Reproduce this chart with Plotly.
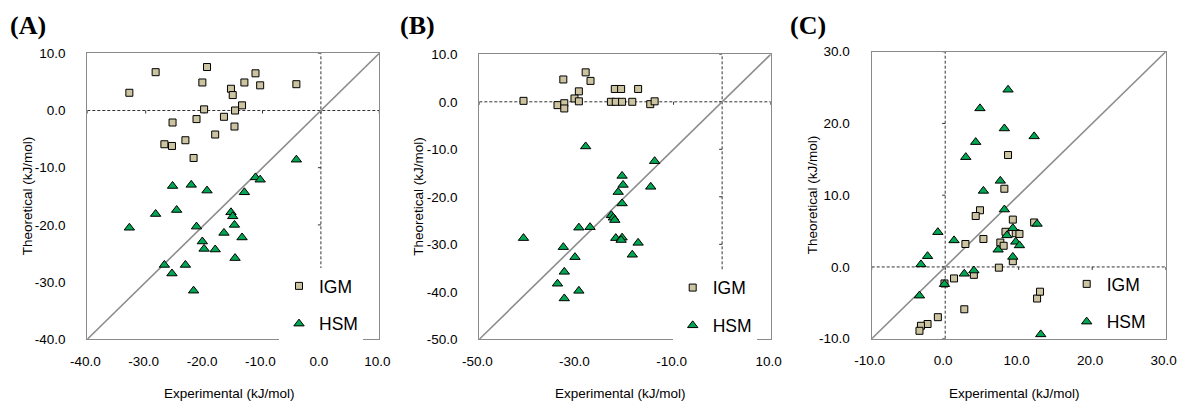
import plotly.graph_objects as go

# ---------------- data ----------------
A_IGM_x = [-32.8, -28.3, -19.5, -20.3, -15.4, -15.1, -13.1, -11.2, -10.4, -4.2, -20.0,
           -13.5, -14.7, -16.6, -21.3, -25.4, -14.8, -18.1, -23.2, -26.8, -25.5, -21.8]
A_IGM_y = [3.1, 6.7, 7.6, 4.9, 3.8, 2.7, 4.9, 6.5, 4.4, 4.6, 0.2,
           0.9, 0.0, -1.1, -1.5, -2.1, -2.8, -4.2, -5.2, -5.9, -6.2, -8.3]
A_HSM_x = [-4.2, -11.2, -10.4, -25.4, -22.2, -19.5, -13.1, -28.3, -24.7, -32.8, -21.3, -15.4,
           -15.1, -14.8, -16.6, -13.5, -20.3, -20.0, -18.1, -14.7, -26.8, -23.2, -25.5, -21.8]
A_HSM_y = [-8.6, -11.7, -12.1, -13.2, -13.0, -14.0, -14.3, -18.1, -17.4, -20.5, -20.3, -17.8,
           -18.5, -20.0, -21.4, -22.2, -22.9, -24.2, -24.3, -25.8, -27.0, -27.0, -28.5, -31.5]

B_IGM_x = [-40.9, -32.7, -28.1, -27.1, -29.5, -30.4, -29.5, -33.9, -32.5, -32.5,
           -22.1, -20.8, -17.3, -22.9, -21.9, -20.6, -18.5, -14.8, -13.9]
B_IGM_y = [0.2, 4.7, 6.2, 4.4, 2.2, 0.7, 0.1, -0.7, -0.3, -1.4,
           2.7, 2.7, 2.7, 0.0, 0.0, 0.0, 0.0, -0.5, 0.1]
B_HSM_x = [-28.1, -13.9, -20.6, -20.4, -14.7, -21.4, -20.6, -22.8, -22.4, -22.1, -29.5, -27.2,
           -40.9, -21.9, -20.6, -20.8, -17.3, -32.7, -18.5, -30.3, -32.5, -33.9, -29.5, -32.5]
B_HSM_y = [-9.4, -12.5, -15.6, -17.5, -17.9, -19.0, -21.4, -23.9, -24.4, -24.9, -26.5, -26.4,
           -28.7, -28.7, -28.6, -29.1, -29.7, -30.6, -32.2, -32.7, -35.8, -38.3, -39.8, -41.4]

C_IGM_x = [8.55, 8.05, 4.73, 4.15, 9.2, 12.1, 5.2, 2.75, 8.2, 9.6, 10.1, 7.5, 7.95,
           9.2, 7.3, 3.9, 1.2, -0.1, 2.6, -1.0, -2.4, -3.3, -3.5, 12.5, 12.9]
C_IGM_y = [15.6, 10.9, 7.9, 7.1, 6.6, 6.2, 3.9, 3.2, 4.9, 4.7, 4.6, 3.4, 2.95,
           0.8, -0.1, -1.1, -1.6, -2.3, -5.9, -7.0, -7.95, -8.2, -8.9, -4.4, -3.45]
C_HSM_x = [8.55, 4.73, 8.05, 12.1, 4.15, 2.8, 7.5, 5.2, 8.05, 9.2, 8.4, 9.6, 10.1,
           12.5, -1.0, 1.2, -2.4, -3.3, 7.2, 9.2, 2.6, 3.9, -0.1, -3.5, 13.0]
C_HSM_y = [24.7, 22.1, 19.3, 18.2, 17.4, 15.3, 12.0, 10.6, 8.0, 5.4, 4.4, 3.5, 3.0,
           6.0, 4.85, 3.7, 1.5, 0.35, 2.4, 1.4, -0.95, -0.5, -2.4, -4.0, -9.4]

A_range = [-40, 10]
B_range = [-50, 10]
C_range = [-10, 30]
A_xticks = [-40, -30, -20, -10, 0, 10]
A_yticks = [-40, -30, -20, -10, 0, 10]
B_xticks = [-50, -30, -10, 10]
B_yticks = [-50, -40, -30, -20, -10, 0, 10]
C_xticks = [-10, 0, 10, 20, 30]
C_yticks = [-10, 0, 10, 20, 30]

panel_labels = ["(A)", "(B)", "(C)"]
x_title = "Experimental (kJ/mol)"
y_title = "Theoretical (kJ/mol)"
series_names = ["IGM", "HSM"]

# ---------------- styles ----------------
W, H = 1178, 401
FONT = "Liberation Sans, Arial, sans-serif"
SQ_FILL = "#CCC3A0"
TRI_FILL = "#00A651"
BORDER = "#8A8A8A"
DIAG = "#8C8C8C"
ZERO = "#333333"

# pixel boxes of the three plot areas: (left, right, top, bottom)
boxes = [(87.3, 379.3, 53.3, 339.3), (479.3, 770.7, 54.3, 339.3), (871.7, 1165.7, 51.7, 338.7)]

panels = [
    (A_IGM_x, A_IGM_y, A_HSM_x, A_HSM_y, A_range, A_xticks, A_yticks),
    (B_IGM_x, B_IGM_y, B_HSM_x, B_HSM_y, B_range, B_xticks, B_yticks),
    (C_IGM_x, C_IGM_y, C_HSM_x, C_HSM_y, C_range, C_xticks, C_yticks),
]

# legend text positions (px): (text left, first item center y)
legend_pos = [(319, 284), (712.7, 285.7), (1106.7, 282)]
legend_bg = ["white", "white", "rgba(0,0,0,0)"]
xtitle_cx = [229, 620.5, 1014]
ytitle_cx = [27, 419, 812]
label_x = [8, 398, 788]

fig = go.Figure()
layout = dict(width=W, height=H, margin=dict(l=0, r=0, t=0, b=0, autoexpand=False),
              paper_bgcolor="white", plot_bgcolor="white",
              font=dict(family=FONT, size=13.5, color="black"))
shapes = []
annotations = []

for i, (ix, iy, hx, hy, rng, xt, yt) in enumerate(panels):
    n = "" if i == 0 else str(i + 1)
    xa, ya = "x" + n, "y" + n
    lg = "legend" + n
    l, r, t, b = boxes[i]
    layout["xaxis" + n] = dict(
        domain=[l / W, r / W], range=rng, anchor=ya, tickvals=xt, automargin=False,
        ticktext=[f"{v:.1f}" for v in xt], ticks="", showgrid=False, zeroline=False,
        showline=True, mirror=True, linecolor=BORDER, linewidth=1.3,
        ticklabelstandoff=9, ticklabelshift=-2, ticklabeloverflow="allow",
        tickfont=dict(size=13.5))
    layout["yaxis" + n] = dict(
        domain=[(H - b) / H, (H - t) / H], range=rng, anchor=xa, tickvals=yt, automargin=False,
        ticktext=[f"{v:.1f}" for v in yt], ticks="", showgrid=False, zeroline=False,
        showline=True, mirror=True, linecolor=BORDER, linewidth=1.3,
        ticklabelstandoff=18, ticklabeloverflow="allow", tickfont=dict(size=13.5))

    # diagonal y = x
    fig.add_trace(go.Scatter(x=rng, y=rng, mode="lines", xaxis=xa, yaxis=ya,
                             line=dict(color=DIAG, width=1.6), showlegend=False,
                             hoverinfo="skip"))
    fig.add_trace(go.Scatter(x=ix, y=iy, mode="markers", name=series_names[0],
                             xaxis=xa, yaxis=ya, legend=lg, legendgroup="g1" + n,
                             marker=dict(symbol="square", size=7, color=SQ_FILL,
                                         line=dict(color="black", width=1))))
    fig.add_trace(go.Scatter(x=hx, y=hy, mode="markers", name=series_names[1],
                             xaxis=xa, yaxis=ya, legend=lg, legendgroup="g2" + n,
                             marker=dict(symbol="triangle-up", size=9, color=TRI_FILL,
                                         line=dict(color="black", width=1))))

    # dashed zero lines
    shapes.append(dict(type="line", xref=xa, yref=ya, x0=0, x1=0, y0=rng[0], y1=rng[1],
                       layer="below", line=dict(color=ZERO, width=1, dash="3px,2px")))
    shapes.append(dict(type="line", xref=xa, yref=ya, x0=rng[0], x1=rng[1], y0=0, y1=0,
                       layer="below", line=dict(color=ZERO, width=1, dash="3px,2px")))
    # small tick marks on the zero lines
    for v in xt:
        shapes.append(dict(type="line", xref=xa, yref=ya, x0=v, x1=v, ysizemode="pixel",
                           yanchor=0, y0=0, y1=-3, layer="below",
                           line=dict(color=ZERO, width=1)))
    for v in yt:
        shapes.append(dict(type="line", xref=xa, yref=ya, y0=v, y1=v, xsizemode="pixel",
                           xanchor=0, x0=0, x1=-3, layer="below",
                           line=dict(color=ZERO, width=1)))

    # legend
    tx, ty = legend_pos[i]
    layout[lg] = dict(x=(tx - 40) / W, y=(H - (ty - 16)) / H, xanchor="left", yanchor="top",
                      xref="container", yref="container",
                      bgcolor=legend_bg[i], borderwidth=0, font=dict(size=17.5, family=FONT),
                      tracegroupgap=12, traceorder="grouped")

    # axis titles and panel label
    annotations.append(dict(text=x_title, xref="paper", yref="paper", x=xtitle_cx[i] / W,
                            y=(H - 393) / H, xanchor="center", yanchor="middle",
                            showarrow=False, font=dict(size=13.5)))
    annotations.append(dict(text=y_title, xref="paper", yref="paper", x=ytitle_cx[i] / W,
                            y=(H - (t + b) / 2) / H, xanchor="center", yanchor="middle",
                            textangle=-90, showarrow=False, font=dict(size=13.5)))
    annotations.append(dict(text="<b>" + panel_labels[i] + "</b>", xref="paper", yref="paper",
                            x=label_x[i] / W, y=(H - 25) / H, xanchor="left", yanchor="middle",
                            showarrow=False,
                            font=dict(size=26, family="Liberation Serif, Times New Roman, serif")))

layout["shapes"] = shapes
layout["annotations"] = annotations
fig.update_layout(**layout)
fig.write_html(
    "out.html",
    config={"displayModeBar": False},
    post_script="document.body.style.margin='0';document.body.style.padding='0';"
                "document.documentElement.style.overflow='hidden';",
)
